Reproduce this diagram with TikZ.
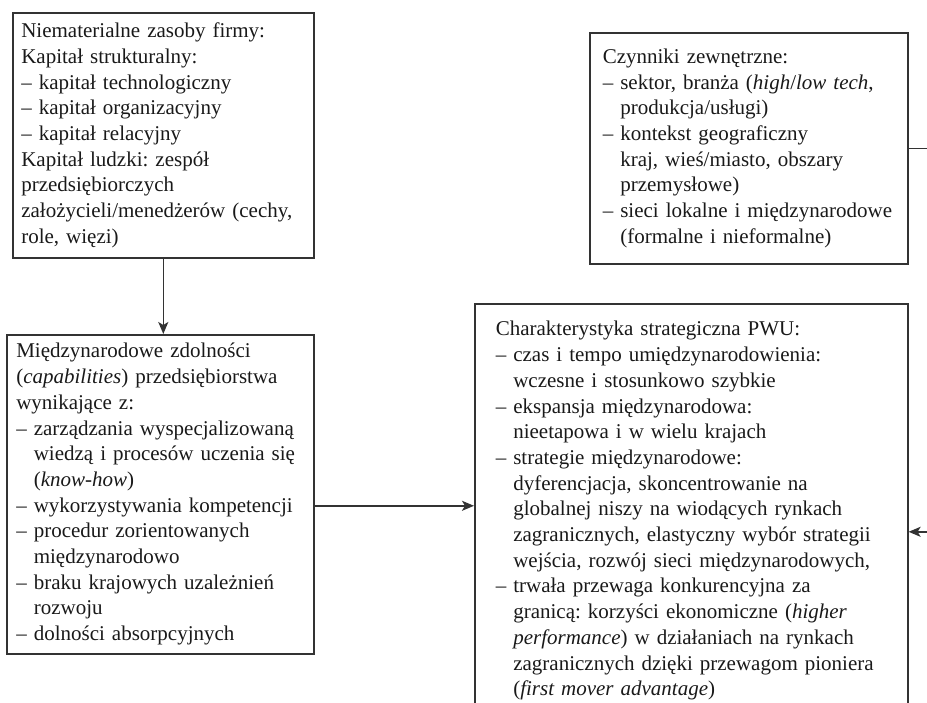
\documentclass[tikz,border=0pt]{standalone}
\usepackage{fontspec}
\setmainfont{Liberation Serif}
\usepackage{xcolor}
\usepackage{tikz}
\usetikzlibrary{positioning, arrows.meta}
\newcommand{\wc}{\hphantom{– }}
\frenchspacing

\begin{document}
\begin{tikzpicture}[x=0.5pt, y=-0.5pt,
  every node/.style={inner sep=2pt},
  box/.style={draw=black!80, line width=0.8pt, anchor=north west, align=left,
    text=black!90, font=\fontsize{10.5pt}{12.85pt}\selectfont},
  arrow/.style={-{Stealth[length=6pt, width=5pt, inset=1.5pt]}, black!80, line width=0.8pt}]
\useasboundingbox (0,0) rectangle (927,702);
\node[box, inner xsep=4.25pt, text width=142pt, minimum height=122.5pt] (Zasoby) at (12,12)
  {Niematerialne zasoby firmy:\\
   Kapitał strukturalny:\\
   – kapitał technologiczny\\
   – kapitał organizacyjny\\
   – kapitał relacyjny\\
   Kapitał ludzki: zespół\\
   przedsiębiorczych\\
   założycieli/menedżerów (cechy,\\
   role, więzi)};
\node[box, inner xsep=4.75pt, text width=144pt, minimum height=159.5pt] (Zdolnosci) at (6,334)
  {Międzynarodowe zdolności\\
   (\textit{capabilities}) przedsiębiorstwa\\
   wynikające z:\\
   – zarządzania wyspecjalizowaną\\
   \wc wiedzą i procesów uczenia się\\
   \wc(\textit{know-how})\\
   – wykorzystywania kompetencji\\
   – procedur zorientowanych\\
   \wc międzynarodowo\\
   – braku krajowych uzależnień\\
   \wc rozwoju\\
   – dolności absorpcyjnych};
\node[box, inner xsep=6.5pt, text width=146pt, minimum height=115.5pt] (Czynniki) at (589,32)
  {Czynniki zewnętrzne:\\
   – sektor, branża (\textit{high}/\textit{low tech},\\
   \wc produkcja/usługi)\\
   – kontekst geograficzny\\
   \wc kraj, wieś/miasto, obszary\\
   \wc przemysłowe)\\
   – sieci lokalne i międzynarodowe\\
   \wc(formalne i nieformalne)};
\node[box, inner xsep=10.5pt, text width=195.5pt, minimum height=207pt] (PWU) at (474,303)
  {Charakterystyka strategiczna PWU:\\
   – czas i tempo umiędzynarodowienia:\\
   \wc wczesne i stosunkowo szybkie\\
   – ekspansja międzynarodowa:\\
   \wc nieetapowa i w wielu krajach\\
   – strategie międzynarodowe:\\
   \wc dyferencjacja, skoncentrowanie na\\
   \wc globalnej niszy na wiodących rynkach\\
   \wc zagranicznych, elastyczny wybór strategii\\
   \wc wejścia, rozwój sieci międzynarodowych,\\
   – trwała przewaga konkurencyjna za\\
   \wc granicą: korzyści ekonomiczne (\textit{higher}\\
   \wc\textit{performance}) w działaniach na rynkach\\
   \wc zagranicznych dzięki przewagom pioniera\\
   \wc(\textit{first mover advantage})};
\coordinate (Petla) at ([xshift=17pt]Czynniki.east);
\draw[arrow] (Zasoby.south) -- (Zasoby.south |- Zdolnosci.north);
\draw[arrow] ([yshift=-5.75pt]Zdolnosci.east) -- ([yshift=-5.75pt]Zdolnosci.east -| PWU.west);
\draw[arrow] (Czynniki.east) -- (Petla) |- ([yshift=-10.5pt]PWU.east);
\end{tikzpicture}
\end{document}
